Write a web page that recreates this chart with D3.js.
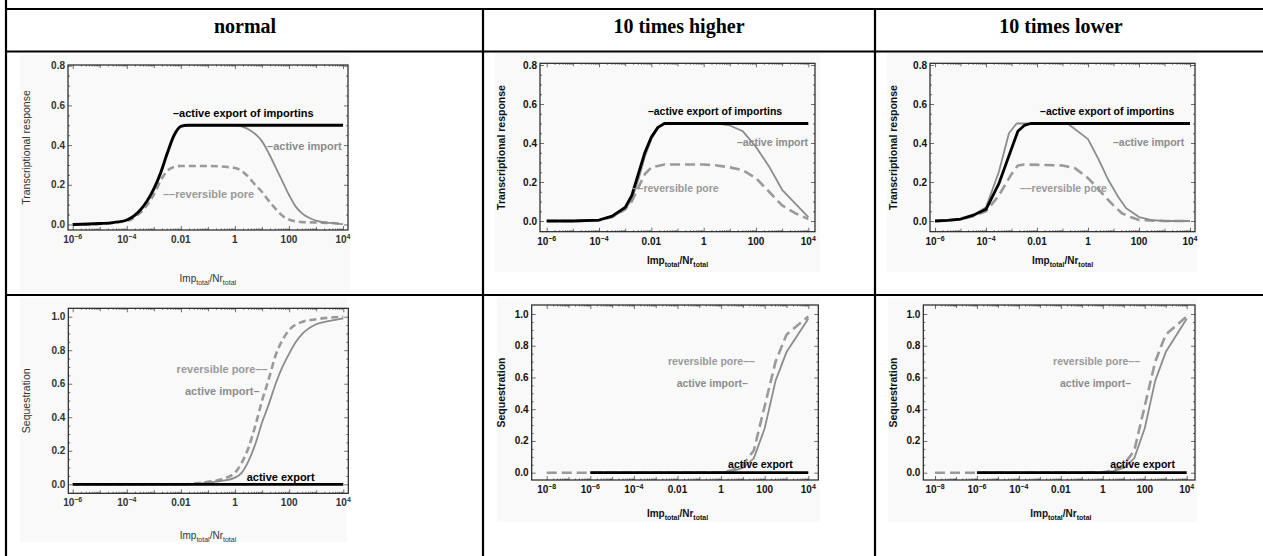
<!DOCTYPE html>
<html><head><meta charset="utf-8">
<script src="https://cdn.jsdelivr.net/npm/d3@7"></script>
<style>body{margin:0;background:#fff}svg{display:block}</style>
</head><body><svg id="c" width="1263" height="556"></svg>
<script>
// ---------------- DATA ----------------
const columnTitles = ["normal", "10 times higher", "10 times lower"];
const respYTicks = [0, 0.2, 0.4, 0.6, 0.8];
const seqYTicks = [0, 0.2, 0.4, 0.6, 0.8, 1.0];
const xTickExpsWide = [-6, -4, -2, 0, 2, 4];
const xTickExpsWider = [-8, -6, -4, -2, 0, 2, 4];
const xTickLabels = {"-8": ["10", "−8"], "-6": ["10", "−6"], "-4": ["10", "−4"], "-2": ["0.01", ""], "0": ["1", ""], "2": ["100", ""], "4": ["10", "4"]};
const respAxisTitle = "Transcriptional response";
const seqAxisTitle = "Sequestration";

// each series: [log10(Imp_total/Nr_total), value]
const normalRespExport = [[-6,0],[-5,0.005],[-4.5,0.01],[-4,0.023],[-3.5,0.073],[-3,0.18],[-2.75,0.26],[-2.5,0.36],[-2.25,0.45],[-2,0.495],[-1.75,0.5],[0,0.5],[2,0.5],[4,0.5]];
const normalRespImport = [[-6,0],[-5,0.005],[-4.5,0.01],[-4,0.022],[-3.5,0.068],[-3,0.17],[-2.75,0.25],[-2.5,0.35],[-2.25,0.44],[-2,0.49],[-1.75,0.5],[-1,0.5],[0,0.5],[0.5,0.48],[0.8,0.45],[1,0.42],[1.25,0.36],[1.5,0.29],[1.75,0.22],[2,0.15],[2.25,0.09],[2.5,0.055],[3,0.02],[3.5,0.008],[4,0.002]];
const normalRespPore = [[-6,0],[-5,0.003],[-4,0.018],[-3.5,0.06],[-3,0.15],[-2.75,0.22],[-2.5,0.27],[-2.25,0.29],[-2,0.295],[-1,0.295],[0,0.285],[0.25,0.27],[0.5,0.24],[0.75,0.2],[1,0.165],[1.25,0.12],[1.5,0.08],[1.75,0.045],[2,0.025],[2.5,0.012],[3,0.01],[3.5,0.008],[4,0.003]];

const higherRespExport = [[-6,0],[-5,0],[-4,0.005],[-3.5,0.025],[-3,0.07],[-2.75,0.13],[-2.5,0.24],[-2.25,0.35],[-2,0.43],[-1.75,0.48],[-1.5,0.5],[0,0.5],[2,0.5],[4,0.5]];
const higherRespImport = [[-6,0],[-5,0],[-4,0.004],[-3.5,0.02],[-3,0.06],[-2.75,0.11],[-2.5,0.21],[-2.25,0.33],[-2,0.42],[-1.75,0.475],[-1.5,0.5],[0,0.5],[0.5,0.5],[1,0.49],[1.5,0.46],[2,0.38],[2.5,0.28],[3,0.16],[4,0.02]];
const higherRespPore = [[-6,0],[-5,0],[-4,0.003],[-3.5,0.02],[-3,0.06],[-2.75,0.1],[-2.5,0.17],[-2.25,0.24],[-2,0.275],[-1.5,0.29],[0,0.29],[0.5,0.285],[1,0.275],[1.5,0.26],[2,0.22],[2.5,0.15],[3,0.08],[3.5,0.04],[4,0.01]];

const lowerRespExport = [[-6,0],[-5.5,0.003],[-5,0.01],[-4.5,0.03],[-4,0.06],[-3.5,0.19],[-3,0.37],[-2.75,0.46],[-2.5,0.49],[-2.25,0.5],[0,0.5],[2,0.5],[4,0.5]];
const lowerRespImport = [[-6,0],[-5,0.01],[-4.5,0.03],[-4,0.07],[-3.5,0.25],[-3.1,0.45],[-2.8,0.5],[-1,0.5],[-0.8,0.5],[0,0.42],[0.4,0.32],[0.8,0.21],[1.2,0.12],[1.5,0.065],[2,0.02],[2.5,0.005],[3,0],[4,0]];
const lowerRespPore = [[-6,0],[-5,0.008],[-4.5,0.025],[-4,0.05],[-3.5,0.13],[-3,0.24],[-2.75,0.285],[-2.5,0.29],[-1,0.285],[-0.5,0.27],[0,0.22],[0.33,0.175],[0.67,0.125],[1,0.08],[1.33,0.04],[1.67,0.02],[2,0.005],[3,0],[4,0]];

const normalSeqExport = [[-6,0],[-2,0],[0,0],[2,0],[4,0]];
const normalSeqImport = [[-6,0],[-2,0],[-1,0.01],[-0.5,0.02],[0,0.04],[0.25,0.07],[0.5,0.14],[0.75,0.24],[1,0.37],[1.25,0.48],[1.5,0.6],[1.75,0.7],[2,0.78],[2.25,0.85],[2.5,0.9],[3,0.955],[3.5,0.975],[4,0.99]];
const normalSeqPore = [[-6,0],[-2,0],[-1,0.015],[-0.5,0.03],[0,0.07],[0.25,0.13],[0.5,0.22],[0.75,0.35],[1,0.5],[1.25,0.63],[1.5,0.77],[1.75,0.86],[2,0.92],[2.5,0.97],[3,0.985],[4,1.0]];

const higherSeqExport = [[-6,0],[-2,0],[0,0],[2,0],[4,0]];
const higherSeqImport = [[-6,0],[0,0.002],[0.5,0.01],[1,0.03],[1.5,0.09],[2,0.28],[2.5,0.58],[3,0.76],[4,0.97]];
const higherSeqPore = [[-8,0],[-4,0],[0,0.002],[0.5,0.015],[1,0.05],[1.5,0.14],[2,0.42],[2.5,0.7],[3,0.87],[4,0.985]];

const lowerSeqExport = [[-6,0],[-2,0],[0,0],[2,0],[4,0]];
const lowerSeqImport = [[-6,0],[0,0.002],[0.5,0.01],[1,0.03],[1.5,0.09],[2,0.28],[2.5,0.58],[3,0.76],[4,0.97]];
const lowerSeqPore = [[-8,0],[-4,0],[0,0.002],[0.5,0.015],[1,0.05],[1.5,0.14],[2,0.42],[2.5,0.7],[3,0.87],[4,0.985]];

const respLabelsText = ["–active export of importins", "–active import", "––reversible pore"];
const seqLabelsText = ["reversible pore––", "active import–", "active export"];

// ---------------- LAYOUT ----------------
const panels = [
  {frame:[68,65,348,230], xr:[72.7,343], yr:[224.5,65.7], xd:[-6,4], yd:[0,0.8], ticks:xTickExpsWide, yticks:respYTicks, title:respAxisTitle,
   series:[normalRespPore, normalRespImport, normalRespExport], curve:d3.curveMonotoneX, dash:"7,4", bold:false, ylabX:26.7, xlabY:282,
   labels:[[-2.29,0.562],[1.19,0.395],[-2.66,0.154]], texts:respLabelsText, lfs:11},
  {frame:[540,63.3,815,231.7], xr:[546.7,808.3], yr:[221,65], xd:[-6,4], yd:[0,0.8], ticks:xTickExpsWide, yticks:respYTicks, title:respAxisTitle,
   series:[higherRespPore, higherRespImport, higherRespExport], curve:d3.curveLinear, dash:"10,5", bold:true, ylabX:501.7, xlabY:264,
   labels:[[-2.13,0.56],[1.27,0.405],[-2.75,0.169]], texts:respLabelsText, lfs:10.5},
  {frame:[930,63.3,1195,231.7], xr:[935,1190], yr:[221,65], xd:[-6,4], yd:[0,0.8], ticks:xTickExpsWide, yticks:respYTicks, title:respAxisTitle,
   series:[lowerRespPore, lowerRespImport, lowerRespExport], curve:d3.curveLinear, dash:"10,5", bold:true, ylabX:893.3, xlabY:264,
   labels:[[-1.88,0.56],[0.98,0.405],[-2.67,0.169]], texts:respLabelsText, lfs:10.5},
  {frame:[68.3,308.3,348.3,493.3], xr:[72.7,343.3], yr:[484.3,316.7], xd:[-6,4], yd:[0,1], ticks:xTickExpsWide, yticks:seqYTicks, title:seqAxisTitle,
   series:[normalSeqPore, normalSeqImport, normalSeqExport], curve:d3.curveMonotoneX, dash:"7,4", bold:false, ylabX:26.7, xlabY:539,
   labels:[[-2.16,0.686],[-1.85,0.553],[0.43,0.045]], texts:seqLabelsText, lfs:11},
  {frame:[531.7,305,818.3,480], xr:[546.7,808.3], yr:[472.7,314], xd:[-8,4], yd:[0,1], ticks:xTickExpsWider, yticks:seqYTicks, title:seqAxisTitle,
   series:[higherSeqPore, higherSeqImport, higherSeqExport], curve:d3.curveLinear, dash:"10,5", bold:true, ylabX:501.7, xlabY:517,
   labels:[[-2.44,0.70],[-2.04,0.563],[0.32,0.055]], texts:seqLabelsText, lfs:10.5},
  {frame:[923.3,305,1195,480], xr:[935,1186.7], yr:[472.7,314], xd:[-8,4], yd:[0,1], ticks:xTickExpsWider, yticks:seqYTicks, title:seqAxisTitle,
   series:[lowerSeqPore, lowerSeqImport, lowerSeqExport], curve:d3.curveLinear, dash:"10,5", bold:true, ylabX:893.3, xlabY:517,
   labels:[[-2.37,0.70],[-2.04,0.563],[0.35,0.055]], texts:seqLabelsText, lfs:10.5}
];
const imageBoxes = [[20,55,350,292],[495,53,820,272],[887,53,1197,272],[20,298,347,542],[497,298,820,522],[888,298,1197,522]];
const seriesStyles = [
  {color:"#9a9a9a", width:2.6, dashed:true},
  {color:"#8c8c8c", width:1.8, dashed:false},
  {color:"#000", width:2.8, dashed:false}
];
const labelColors = ["#000", "#8c8c8c", "#9a9a9a"];
const seqLabelColors = ["#9a9a9a", "#8c8c8c", "#000"];

const svg = d3.select("#c");
const SANS = "'Liberation Sans', Arial, Helvetica, sans-serif";

imageBoxes.forEach(b => svg.append("rect").attr("x", b[0]).attr("y", b[1]).attr("width", b[2]-b[0]).attr("height", b[3]-b[1]).attr("fill", "#f9f9f9"));

const grid = svg.append("g").attr("stroke", "#000").attr("stroke-width", 2.2);
[9, 51.5, 295].forEach(y => grid.append("line").attr("x1", 5).attr("x2", 1263).attr("y1", y).attr("y2", y));
grid.append("line").attr("x1", 6).attr("x2", 6).attr("y1", 0).attr("y2", 556);
[483, 875].forEach(x => grid.append("line").attr("x1", x).attr("x2", x).attr("y1", 8).attr("y2", 556));

const titleX = [245, 679, 1061];
columnTitles.forEach((t, i) => svg.append("text").attr("x", titleX[i]).attr("y", 32.5).attr("text-anchor", "middle")
  .attr("font-family", "'Liberation Serif', 'Times New Roman', serif").attr("font-weight", "bold").attr("font-size", 20).text(t));

panels.forEach((p, pi) => {
  const g = svg.append("g");
  const x = d3.scaleLog().domain([10 ** p.xd[0], 10 ** p.xd[1]]).range(p.xr);
  const y = d3.scaleLinear().domain(p.yd).range(p.yr);
  const [fl, ft, fr, fb] = p.frame;
  const tcol = p.bold ? "#111" : "#333";

  const majorX = p.ticks.map(e => 10 ** e);
  const decX = d3.range(p.xd[0], p.xd[1] + 1).filter(e => !p.ticks.includes(e)).map(e => 10 ** e);
  const subX = [];
  d3.range(p.xd[0], p.xd[1]).forEach(e => [2,3,4,5,6,7,8,9].forEach(m => subX.push(m * 10 ** e)));
  const minorY = d3.range(0, Math.round(p.yd[1] / 0.05) + 1).map(i => i * 0.05).filter(v => !p.yticks.some(t => Math.abs(t - v) < 1e-6));

  const axisG = g.append("g").attr("color", "#333");
  const addAxis = (gen, tr, vals, size) => {
    const a = axisG.append("g").attr("transform", tr).call(gen.tickValues(vals).tickSize(size).tickFormat(""));
    a.select(".domain").remove();
    a.selectAll("line").attr("stroke-width", 0.7);
  };
  [[majorX, -4], [decX, -3], [subX, -1.5]].forEach(([v, s]) => {
    addAxis(d3.axisBottom(x), `translate(0,${fb})`, v, s);
    addAxis(d3.axisTop(x), `translate(0,${ft})`, v, s);
  });
  [[p.yticks, -4], [minorY, -2]].forEach(([v, s]) => {
    addAxis(d3.axisLeft(y), `translate(${fl},0)`, v, s);
    addAxis(d3.axisRight(y), `translate(${fr},0)`, v, s);
  });

  g.append("rect").attr("x", fl).attr("y", ft).attr("width", fr - fl).attr("height", fb - ft)
    .attr("fill", "none").attr("stroke", "#222").attr("stroke-width", 1.2);

  g.selectAll(".yl").data(p.yticks).join("text").attr("x", fl - 3).attr("y", d => y(d)).attr("dy", "0.35em")
    .attr("text-anchor", "end").attr("font-family", SANS).attr("font-size", 10).attr("font-weight", "bold").attr("fill", tcol)
    .text(d => d.toFixed(1));

  p.ticks.forEach(e => {
    const lab = xTickLabels[String(e)];
    const t = g.append("text").attr("x", x(10 ** e)).attr("y", fb + 13).attr("text-anchor", "middle")
      .attr("font-family", SANS).attr("font-size", 10).attr("font-weight", "bold").attr("fill", tcol);
    t.append("tspan").text(lab[0]);
    if (lab[1]) t.append("tspan").attr("font-size", 7).attr("dy", -4).text(lab[1]);
  });

  g.append("text").attr("transform", `translate(${p.ylabX},${(ft + fb) / 2}) rotate(-90)`).attr("text-anchor", "middle")
    .attr("dy", "0.35em").attr("font-family", SANS).attr("font-size", 10.5).attr("font-weight", p.bold ? "bold" : "normal")
    .attr("fill", tcol).text(p.title);
  const xl = g.append("text").attr("x", (p.xr[0] + p.xr[1]) / 2).attr("y", p.xlabY).attr("text-anchor", "middle")
    .attr("font-family", SANS).attr("font-size", 10).attr("font-weight", p.bold ? "bold" : "normal").attr("fill", tcol);
  xl.append("tspan").text("Imp");
  xl.append("tspan").attr("font-size", 7).attr("dy", 3).text("total");
  xl.append("tspan").attr("dy", -3).text("/Nr");
  xl.append("tspan").attr("font-size", 7).attr("dy", 3).text("total");

  const line = d3.line().x(d => x(10 ** d[0])).y(d => y(d[1])).curve(p.curve);
  p.series.forEach((s, si) => {
    const st = seriesStyles[si];
    g.append("path").datum(s).attr("d", line).attr("fill", "none").attr("stroke", st.color)
      .attr("stroke-width", st.width).attr("stroke-dasharray", st.dashed ? p.dash : null).attr("stroke-linejoin", "round");
  });

  const cols = pi < 3 ? labelColors : seqLabelColors;
  p.labels.forEach((l, li) => {
    g.append("text").attr("x", x(10 ** l[0])).attr("y", y(l[1])).attr("dy", "0.35em")
      .attr("font-family", SANS).attr("font-size", p.lfs).attr("font-weight", "bold").attr("fill", cols[li]).text(p.texts[li]);
  });
});
</script></body></html>
